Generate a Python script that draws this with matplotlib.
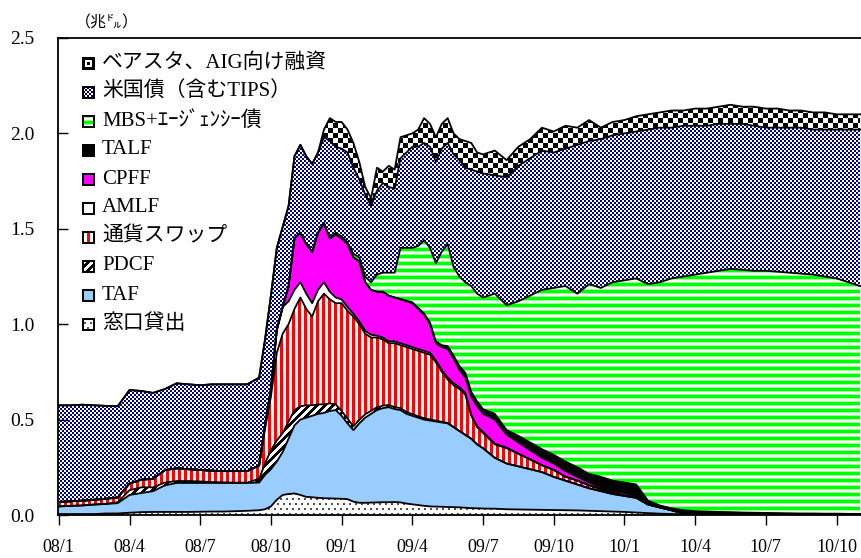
# FRB資産の内訳（積み上げ面グラフ）を描いて out.png に保存

import numpy as np
import matplotlib
matplotlib.use('Agg')
import matplotlib.pyplot as plt
from matplotlib.colors import to_rgb

# x: 2008年1月からの月数
months = [0, 0.5, 1, 1.5, 2, 2.5, 3, 3.5, 4, 4.5, 5, 5.5, 6, 6.5, 7, 7.5, 8, 8.5,
          8.75, 9, 9.25, 9.5, 9.75, 10, 10.25, 10.5, 10.75, 11, 11.25, 11.5, 11.75,
          12, 12.25, 12.5, 12.75, 13, 13.25, 13.5, 13.75, 14, 14.25, 14.5, 14.75,
          15, 15.25, 15.5, 15.75, 16, 16.25, 16.5, 16.75, 17, 17.25, 17.5, 17.75, 18,
          18.5, 19, 19.5, 20, 20.5, 21, 21.5, 22, 22.5, 23, 23.5, 24, 24.5, 25, 25.5,
          26, 26.5, 27, 27.5, 28, 28.5, 29, 29.5, 30, 30.5, 31, 31.5, 32, 32.5, 33,
          33.5, 34]

# 各項目（兆ドル）、下から順に積み上げ
discount = [.005, .005, .005, .005, .008, .008, .012, .015, .016, .016, .016, .016, .017, .018, .018, .020, .022, .025,
            .030, .045, .080, .105, .110, .113, .105, .095, .093, .090, .088, .087, .086, .085, .083, .070, .064, .064,
            .065, .066, .067, .067, .068, .066, .060, .056, .052, .048, .045, .044, .043, .042, .041, .040, .038, .036,
            .035, .034,
            .033, .030, .029, .028, .027, .026, .025, .024, .022, .020, .018, .016, .013, .010, .007, .005, .004, .003,
            0, 0, 0, 0, 0, 0, 0, 0, 0, 0, 0, 0, 0, 0]
taf = [.040, .043, .045, .050, .050, .054, .093, .100, .109, .139, .152, .152, .151, .150, .150, .148, .146, .145,
       .180, .195, .200, .225, .290, .357, .395, .415, .427, .440, .447, .458, .464, .435, .397, .375, .416, .446,
       .465, .484, .493, .498, .487, .484, .470, .464, .458, .452, .450, .446, .442, .438, .419, .400, .382, .364,
       .335, .316,
       .267, .240, .226, .212, .198, .174, .155, .136, .118, .105, .092, .084, .077, .045, .033, .020, .004, 0,
       0, 0, 0, 0, 0, 0, 0, 0, 0, 0, 0, 0, 0, 0]
pdcf = [0, 0, 0, 0, 0, .005, .025, .030, .020, .015, .010, .010, .008, .005, .003, .002, .002, .020,
        .060, .100, .110, .100, .090, .080, .070, .065, .055, .050, .045, .040, .030, .025, .025, .020, .020, .018,
        .016, .015, .013, .012, .011, .010, .010, .009, .008, .007, .006, .005, .004, .003, .002, 0, 0, 0, 0, 0,
        0, 0, 0, 0, 0, 0, 0, 0, 0, 0, 0, 0, 0, 0, 0, 0, 0, 0, 0, 0, 0, 0, 0, 0, 0, 0, 0, 0, 0, 0, 0, 0]
swap = [.023, .024, .025, .025, .027, .025, .035, .040, .045, .065, .067, .062, .060, .059, .059, .060, .060, .070,
        .180, .280, .460, .520, .510, .530, .570, .505, .465, .540, .580, .545, .530, .565, .565, .575, .500, .422,
        .384, .365, .347, .323, .334, .330, .340, .341, .342, .343, .339, .305, .261, .227, .218, .220, .210, .120,
        .090, .080,
        .070, .080, .065, .050, .035, .035, .020, .020, .015, .010, .005, .003, .002, 0, 0, 0, 0, 0,
        0, 0, 0, 0, 0, 0, 0, 0, 0, 0, 0, 0, 0, 0]
amlf = [0] * 18 + \
       [.020, .040, .120, .140, .120, .100, .080, .080, .070, .060, .060, .040, .030, .020, .020, .015, .015, .015,
        .015, .010, .010, .010, .010, .010, .010, .010, .010, .010, .010, .010, .010, .010, .010, .010, .010, .005,
        .005, .005,
        .004, .003, .002, .002, .002, .002, .001, .001, .001, .001, 0, 0, 0, 0, 0, 0, 0, 0,
        0, 0, 0, 0, 0, 0, 0, 0, 0, 0, 0, 0, 0, 0]
cpff = [0] * 18 + \
       [0, 0, 0, 0, .080, .270, .260, .260, .270, .300, .310, .280, .330, .320, .330, .295, .315, .255,
        .235, .230, .240, .240, .230, .230, .230, .230, .210, .190, .150, .090, .120, .150, .130, .090, .080, .095,
        .105, .095,
        .126, .067, .058, .048, .038, .033, .029, .019, .014, .009, .010, .012, .008, .001, 0, 0, 0, 0,
        0, 0, 0, 0, 0, 0, 0, 0, 0, 0, 0, 0, 0, 0]
talf = [0] * 18 + [0] * 23 + \
       [.002, .003, .005, .005, .006, .008, .010, .010, .015, .015, .020, .025, .025, .025, .025,
        .030, .025, .035, .040, .045, .045, .050, .050, .045, .055, .055, .055, .060, .019, .010, .010,
        .017, .017, .018, .016, .015, .013, .012, .011, .010, .009, .008, .008, .007, .007, .006, .006]
mbs = [0] * 18 + [0] * 12 + \
      [.010, .010, .010, .020, .020, .030, .040, .090, .100, .120, .130, .268, .277, .285, .325, .384, .392,
       .410, .490, .535, .465, .470, .475, .555, .565, .585,
       .630, .655, .705, .770, .835, .875, .920, .910, .995, .990, 1.040, 1.060, 1.080, 1.135, 1.170, 1.205,
       1.225, 1.240, 1.252, 1.264, 1.275, 1.272, 1.268, 1.269, 1.265, 1.261, 1.257, 1.252, 1.243, 1.233,
       1.214, 1.194]
treasury = [.507, .503, .503, .495, .487, .478, .490, .465, .450, .425, .445, .445, .444, .453, .455, .455, .455, .460,
            .450, .490, .430, .420, .420, .430, .460, .460, .460, .420, .450, .510, .450, .460, .470, .450, .410, .430,
            .400, .440, .470, .450, .440, .470, .500, .530, .520, .510, .530, .530, .540, .530, .590, .610, .600, .610,
            .640, .650,
            .620, .670, .710, .720, .730, .710, .720, .780, .750, .780, .770, .770, .770, .810, .810, .790, .790, .780,
            .770, .770, .760, .765, .760, .750, .755, .760, .765, .760, .770, .780, .800, .820]
bear_aig = [0] * 18 + [0] * 10 + \
           [.040, .120, .130, .140, .120, .130, .090, .040, .040, .120, .060, .110, .100, .110, .090, .070, .090,
            .130, .120, .130, .130, .130, .110, .110, .140, .140, .100, .100,
            .130, .090, .100, .100, .120, .110, .120, .090, .110, .060, .070, .070, .080, .080, .080, .090, .080,
            .090, .090, .090, .100, .090, .100, .100, .100, .090, .090, .090, .090, .080, .080, .080]

names = ['窓口貸出', 'TAF', 'PDCF', '通貨スワップ', 'AMLF', 'CPFF', 'TALF',
         'MBS+ｴｰｼﾞｪﾝｼｰ債', '米国債（含むTIPS）', 'ベアスタ、AIG向け融資']
tick_pos = [0, 3, 6, 9, 12, 15, 18, 21, 24, 27, 30, 33]
tick_labels = ['08/1', '08/4', '08/7', '08/10', '09/1', '09/4', '09/7', '09/10',
               '10/1', '10/4', '10/7', '10/10']
y_ticks = [0, 0.5, 1.0, 1.5, 2.0, 2.5]

layers = [discount, taf, pdcf, swap, amlf, cpff, talf, mbs, treasury, bear_aig]
styles = ['dots', '#99CCFF', 'diag', 'vstripe', 'white', '#FF00FF', 'black',
          'hstripe', 'navychk', 'bigchk']

plt.rcParams['font.family'] = ['Liberation Serif', 'Noto Sans CJK JP']

W_PX, H_PX = 862, 558
AX_L, AX_T, AX_W, AX_H = 58, 38, 804, 477
X0, X1 = -0.034, 34.08
Y1 = 2.5


def pattern(kind, xx, yy):
    # 模様を画素単位で作る
    img = np.ones(xx.shape + (3,))
    if kind == 'dots':
        on = (yy % 5 < 2) & ((xx + 3 * ((yy // 5) % 2)) % 6 < 2)
        img[on] = to_rgb('#505050')
    elif kind == 'diag':
        img[((xx + yy) // 4) % 2 == 0] = 0.0
    elif kind == 'vstripe':
        img[xx % 6 < 3] = to_rgb('#FF0000')
    elif kind == 'hstripe':
        r = yy % 7
        img[r < 3] = to_rgb('#00FF00')
        img[(r == 3) | (r == 6)] = to_rgb('#99FF99')
    elif kind == 'navychk':
        img[((xx // 2) + (yy // 2)) % 2 == 0] = to_rgb('#000080')
    elif kind == 'bigchk':
        img[((xx // 5) + (yy // 5)) % 2 == 0] = 0.0
    else:
        img[:] = to_rgb(kind)
    return img


fig = plt.figure(figsize=(W_PX / 100, H_PX / 100), dpi=100)
ax = fig.add_axes([AX_L / W_PX, 1 - (AX_T + AX_H) / H_PX, AX_W / W_PX, AX_H / H_PX])

yy, xx = np.mgrid[0:AX_H, 0:AX_W]
x = np.array(months)
base = np.zeros_like(x)
tops = []
for vals, style in zip(layers, styles):
    top = base + np.array(vals)
    if style in ('dots', 'diag', 'vstripe', 'hstripe', 'navychk', 'bigchk'):
        poly = ax.fill_between(x, base, top, facecolor='none', linewidth=0)
        im = ax.imshow(pattern(style, xx, yy), extent=[X0, X1, 0, Y1], aspect='auto',
                       interpolation='nearest', zorder=1)
        im.set_clip_path(poly.get_paths()[0], transform=ax.transData)
    else:
        ax.fill_between(x, base, top, facecolor=style, linewidth=0, zorder=1)
    tops.append(top)
    base = top

# 境界線
for top in tops:
    ax.plot(x, top, color='black', lw=1.3, zorder=3)

ax.set_xlim(X0, X1)
ax.set_ylim(0, Y1)
ax.set_xticks(tick_pos)
ax.set_xticklabels(tick_labels)
ax.set_yticks(y_ticks)
ax.set_yticklabels(['%.1f' % v for v in y_ticks])
ax.tick_params(axis='x', direction='out', length=7, width=1, pad=10, labelsize=13)
ax.tick_params(axis='y', direction='in', length=7, width=1, pad=17, labelsize=14)
ax.spines['right'].set_visible(False)
for s in ['left', 'top', 'bottom']:
    ax.spines[s].set_linewidth(1.3)

fig.text(75 / W_PX, 1 - 23 / H_PX, '（兆㌦）', fontsize=11.5, va='center', ha='left')

# 凡例（上から）
iy, ix = np.mgrid[0:13, 0:13]
for i, (name, style) in enumerate(zip(names[::-1], styles[::-1])):
    yc = 63 + 29 * i
    icon = pattern(style, ix + 1, iy + 1)
    if style == 'bigchk':
        icon[:] = 0.0
        icon[3:10, 3:10] = 1.0
        icon[5:8, 5:8] = 0.0
    icon[:2, :] = 0.0
    icon[-2:, :] = 0.0
    icon[:, :2] = 0.0
    icon[:, -2:] = 0.0
    fig.figimage(icon, xo=82, yo=int(H_PX - yc - 6.5), origin='upper', zorder=10)
    fig.text(102 / W_PX, 1 - yc / H_PX, name, fontsize=15, va='center', ha='left')

plt.savefig('out.png', dpi=100)
